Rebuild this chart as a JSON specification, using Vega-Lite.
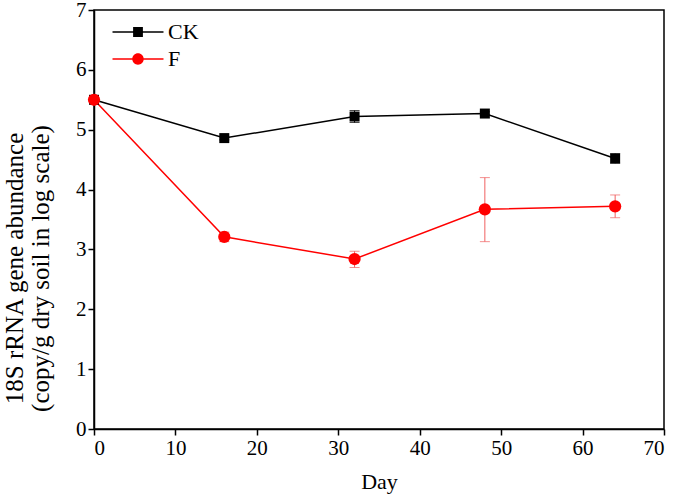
{
  "$schema": "https://vega.github.io/schema/vega-lite/v6.json",
  "width": 570,
  "height": 419,
  "autosize": {"type": "none"},
  "padding": {"left": 94, "top": 10, "right": 11, "bottom": 67},
  "background": "white",
  "config": {
    "font": "Liberation Serif",
    "view": {"stroke": "black", "strokeWidth": 1.5},
    "axis": {
      "grid": false,
      "domainColor": "black",
      "domainWidth": 1.5,
      "tickColor": "black",
      "tickWidth": 1.5,
      "tickSize": 6,
      "labelFont": "Liberation Serif",
      "labelFontSize": 21,
      "labelColor": "black",
      "titleFont": "Liberation Serif",
      "titleFontWeight": "normal",
      "titleColor": "black"
    }
  },
  "data": {
    "values": [
      {"group": "CK", "day": 0, "mean": 5.5, "lo": 5.46, "hi": 5.54},
      {"group": "CK", "day": 16, "mean": 4.86, "lo": 4.83, "hi": 4.89},
      {"group": "CK", "day": 32, "mean": 5.22, "lo": 5.12, "hi": 5.32},
      {"group": "CK", "day": 48, "mean": 5.27, "lo": 5.24, "hi": 5.30},
      {"group": "CK", "day": 64, "mean": 4.52, "lo": 4.44, "hi": 4.60},
      {"group": "F", "day": 0, "mean": 5.5, "lo": 5.45, "hi": 5.55},
      {"group": "F", "day": 16, "mean": 3.21, "lo": 3.13, "hi": 3.29},
      {"group": "F", "day": 32, "mean": 2.84, "lo": 2.70, "hi": 2.97},
      {"group": "F", "day": 48, "mean": 3.67, "lo": 3.13, "hi": 4.20},
      {"group": "F", "day": 64, "mean": 3.72, "lo": 3.53, "hi": 3.91}
    ]
  },
  "encoding": {
    "x": {
      "field": "day", "type": "quantitative",
      "scale": {"domain": [0, 70], "nice": false, "zero": false},
      "axis": {"values": [0, 10, 20, 30, 40, 50, 60, 70], "format": "d", "title": "Day", "titleFontSize": 22, "titlePadding": 13}
    }
  },
  "layer": [
    {
      "mark": {"type": "rule", "strokeWidth": 1},
      "encoding": {
        "y": {"field": "lo", "type": "quantitative"},
        "y2": {"field": "hi"},
        "color": {"field": "group", "type": "nominal", "scale": {"domain": ["CK", "F"], "range": ["#000000", "#f06060"]}, "legend": null}
      }
    },
    {
      "mark": {"type": "tick", "orient": "horizontal", "size": 10, "thickness": 1},
      "encoding": {
        "y": {"field": "lo", "type": "quantitative"},
        "color": {"field": "group", "type": "nominal", "scale": {"domain": ["CK", "F"], "range": ["#000000", "#f06060"]}, "legend": null}
      }
    },
    {
      "mark": {"type": "tick", "orient": "horizontal", "size": 10, "thickness": 1},
      "encoding": {
        "y": {"field": "hi", "type": "quantitative"},
        "color": {"field": "group", "type": "nominal", "scale": {"domain": ["CK", "F"], "range": ["#000000", "#f06060"]}, "legend": null}
      }
    },
    {
      "mark": {"type": "line", "strokeWidth": 1.5},
      "encoding": {
        "y": {
          "field": "mean", "type": "quantitative",
          "scale": {"domain": [0, 7], "nice": false},
          "axis": {"values": [0, 1, 2, 3, 4, 5, 6, 7], "format": "d", "title": ["18S rRNA gene abundance", "(copy/g dry soil in log scale)"], "titleFontSize": 25, "titleLineHeight": 26, "titlePadding": 22, "titleY": 258}
        },
        "stroke": {
          "field": "group", "type": "nominal",
          "scale": {"domain": ["CK", "F"], "range": ["#000000", "#ff0000"]},
          "legend": {
            "title": null,
            "orient": "none",
            "legendX": 33,
            "legendY": 11,
            "labelFont": "Liberation Serif",
            "labelFontSize": 22,
            "labelColor": "black",
            "symbolSize": 416,
            "labelOffset": 19,
            "rowPadding": 5,
            "encode": {
              "symbols": {
                "update": {
                  "shape": {"signal": "datum.value === 'CK' ? 'M-2.5,-0.065H2.5V0.065H-2.5Z M-0.48,-0.48H0.48V0.48H-0.48Z' : 'M-2.5,-0.065H2.5V0.065H-2.5Z M-0.56,0A0.56,0.56 0 1,1 0.56,0A0.56,0.56 0 1,1 -0.56,0Z'"},
                  "fill": {"signal": "datum.value === 'CK' ? '#000000' : '#ff0000'"},
                  "fillOpacity": {"value": 1},
                  "strokeWidth": {"value": 0}
                }
              }
            }
          }
        }
      }
    },
    {
      "transform": [{"filter": "datum.group === 'CK'"}],
      "mark": {"type": "point", "shape": "square", "size": 100, "filled": true, "opacity": 1, "color": "#000000"},
      "encoding": {
        "y": {"field": "mean", "type": "quantitative"}
      }
    },
    {
      "transform": [{"filter": "datum.group === 'F'"}],
      "mark": {"type": "point", "shape": "circle", "size": 150, "filled": true, "opacity": 1, "color": "#ff0000"},
      "encoding": {
        "y": {"field": "mean", "type": "quantitative"}
      }
    }
  ],
  "resolve": {"scale": {"color": "independent"}}
}
